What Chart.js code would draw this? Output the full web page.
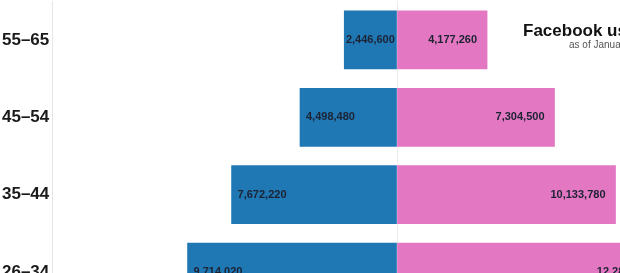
<!DOCTYPE html>
<html>
<head>
<meta charset="utf-8">
<script src="https://cdn.jsdelivr.net/npm/chart.js@4"></script>
<style>
  html, body { margin: 0; padding: 0; background: #fff; overflow: hidden; width: 620px; height: 273px; }
  #wrap { position: absolute; left: 0; top: -12px; width: 744px; height: 336px; }
  .title { position: absolute; left: 523px; top: 22px; font: bold 17px "Liberation Sans", Arial, sans-serif; color: #111; white-space: nowrap; line-height: 17px; }
  .sub { position: absolute; left: 569px; top: 40px; font: 10px "Liberation Sans", Arial, sans-serif; color: #555; white-space: nowrap; line-height: 10px; }
</style>
</head>
<body>
<div id="wrap"><canvas id="chart" width="744" height="336"></canvas></div>
<div class="title">Facebook users in the United States</div>
<div class="sub">as of January 2018</div>
<script>
const ageGroups = ["55–65", "45–54", "35–44", "26–34"];
const maleUsers = [2446600, 4498480, 7672220, 9714020];
const femaleUsers = [4177260, 7304500, 10133780, 12284600];

const blue = "#1f77b4";
const pink = "#e377c2";

// write the numbers inside the bars, at the outer end
const barLabels = {
    id: "barLabels",
    afterDatasetsDraw(chart) {
        const ctx = chart.ctx;
        ctx.save();
        ctx.font = "bold 11px 'Liberation Sans', Arial, sans-serif";
        ctx.fillStyle = "#1c2333";
        ctx.textBaseline = "middle";
        chart.data.datasets.forEach((ds, i) => {
            const meta = chart.getDatasetMeta(i);
            meta.data.forEach((bar, j) => {
                const txt = Math.abs(ds.data[j]).toLocaleString("en-US");
                const w = ctx.measureText(txt).width;
                const left = Math.min(bar.x, bar.base);
                const right = Math.max(bar.x, bar.base);
                const pad = i === 0 ? 6 : 10;
                let x;
                if (right - left < w + 2 * pad) {
                    ctx.textAlign = "center";
                    x = (left + right) / 2;
                } else if (i === 0) {
                    ctx.textAlign = "left";
                    x = left + pad;
                } else {
                    ctx.textAlign = "right";
                    x = right - pad;
                }
                ctx.fillText(txt, x, bar.y);
            });
        });
        ctx.restore();
    }
};

new Chart(document.getElementById("chart"), {
    type: "bar",
    data: {
        labels: ageGroups,
        datasets: [
            { label: "Male", data: maleUsers.map(v => -v), backgroundColor: blue, barThickness: 58 },
            { label: "Female", data: femaleUsers, backgroundColor: pink, barThickness: 58 }
        ]
    },
    options: {
        indexAxis: "y",
        responsive: false,
        animation: false,
        layout: { padding: { left: 2, right: 2, top: 0, bottom: 0 } },
        plugins: { legend: { display: false }, tooltip: { enabled: false } },
        scales: {
            x: {
                stacked: true,
                min: -16000000,
                max: 16000000,
                ticks: { display: false, stepSize: 1000000 },
                border: { display: false },
                grid: {
                    color: c => c.tick && c.tick.value === 0 ? "#ececec" : "rgba(0,0,0,0)",
                    drawTicks: false
                },
                afterFit: s => { s.height = 10; }
            },
            y: {
                stacked: true,
                grid: { display: false },
                border: { display: true, color: "#e6e6e6" },
                ticks: {
                    crossAlign: "far",
                    color: "#1a1a1a",
                    font: { family: "'Liberation Sans', Arial, sans-serif", size: 17, weight: "bold" }
                },
                afterFit: s => { s.width = 50; }
            }
        }
    },
    plugins: [barLabels]
});
</script>
</body>
</html>
